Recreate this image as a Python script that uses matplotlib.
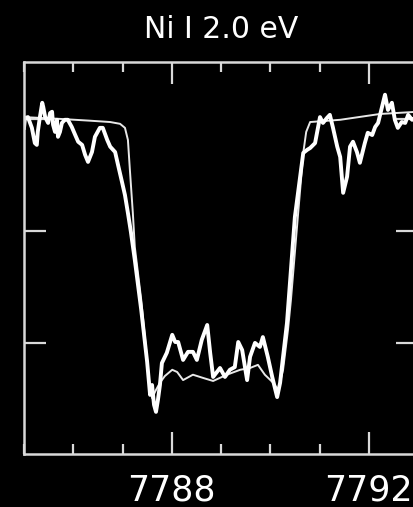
import matplotlib
matplotlib.use("Agg")
import matplotlib.pyplot as plt
from matplotlib.ticker import MultipleLocator

# synthetic profile (thin line)
model_wave = [7785.00, 7785.73, 7786.34, 7786.75, 7786.95, 7787.05, 7787.11, 7787.15,
              7787.21, 7787.25, 7787.38, 7787.50, 7787.54, 7787.60, 7787.68, 7787.76,
              7787.86, 7788.01, 7788.11, 7788.23, 7788.43, 7788.63, 7788.84, 7789.12,
              7789.39, 7789.59, 7789.75, 7789.89, 7790.06, 7790.16, 7790.26, 7790.36,
              7790.42, 7790.56, 7790.67, 7790.73, 7790.81, 7791.42, 7792.23, 7793.00]
model_flux = [1.004, 1.000, 0.996, 0.993, 0.989, 0.980, 0.953, 0.886,
              0.790, 0.714, 0.596, 0.462, 0.417, 0.377, 0.395, 0.411,
              0.426, 0.440, 0.435, 0.417, 0.429, 0.422, 0.415, 0.429,
              0.440, 0.444, 0.451, 0.429, 0.411, 0.395, 0.440, 0.529,
              0.596, 0.781, 0.924, 0.971, 0.993, 0.998, 1.011, 1.016]

# observed spectrum (thick line)
obs_wave = [7785.00, 7785.02, 7785.08, 7785.16, 7785.22, 7785.26, 7785.28, 7785.32,
            7785.37, 7785.39, 7785.43, 7785.49, 7785.53, 7785.57, 7785.59, 7785.63,
            7785.67, 7785.69, 7785.73, 7785.77, 7785.83, 7785.89, 7785.97, 7786.04,
            7786.10, 7786.18, 7786.24, 7786.30, 7786.38, 7786.44, 7786.54, 7786.60,
            7786.69, 7786.75, 7786.85, 7786.91, 7786.99, 7787.05, 7787.11, 7787.17,
            7787.25, 7787.38, 7787.50, 7787.56, 7787.60, 7787.64, 7787.68, 7787.72,
            7787.76, 7787.80, 7787.90, 7788.01, 7788.07, 7788.13, 7788.23, 7788.33,
            7788.43, 7788.51, 7788.61, 7788.72, 7788.78, 7788.84, 7788.98, 7789.08,
            7789.18, 7789.28, 7789.35, 7789.43, 7789.53, 7789.59, 7789.69, 7789.79,
            7789.85, 7789.95, 7790.04, 7790.14, 7790.20, 7790.26, 7790.34, 7790.50,
            7790.67, 7790.75, 7790.81, 7790.91, 7791.01, 7791.07, 7791.15, 7791.21,
            7791.27, 7791.36, 7791.42, 7791.48, 7791.56, 7791.62, 7791.68, 7791.76,
            7791.82, 7791.92, 7791.98, 7792.07, 7792.13, 7792.19, 7792.27, 7792.33,
            7792.39, 7792.47, 7792.53, 7792.59, 7792.67, 7792.74, 7792.80, 7792.88,
            7793.00]
obs_flux = [0.980, 1.002, 1.004, 0.980, 0.946, 0.942, 0.971, 1.002,
            1.036, 1.027, 1.004, 0.991, 1.013, 1.016, 0.987, 0.971,
            0.998, 0.960, 0.971, 0.991, 0.998, 0.998, 0.982, 0.964,
            0.949, 0.942, 0.920, 0.904, 0.926, 0.960, 0.980, 0.980,
            0.953, 0.938, 0.926, 0.897, 0.859, 0.830, 0.790, 0.748,
            0.685, 0.574, 0.458, 0.384, 0.406, 0.362, 0.346, 0.373,
            0.406, 0.455, 0.478, 0.518, 0.502, 0.502, 0.462, 0.480,
            0.480, 0.462, 0.507, 0.540, 0.478, 0.424, 0.444, 0.424,
            0.440, 0.446, 0.502, 0.484, 0.417, 0.469, 0.500, 0.491,
            0.513, 0.469, 0.424, 0.379, 0.411, 0.469, 0.545, 0.781,
            0.924, 0.931, 0.935, 0.946, 1.004, 0.991, 1.002, 1.009,
            0.982, 0.938, 0.915, 0.835, 0.871, 0.938, 0.949, 0.926,
            0.902, 0.946, 0.969, 0.964, 0.982, 0.991, 1.027, 1.054,
            1.020, 1.036, 0.998, 0.980, 0.993, 0.991, 1.009, 0.998,
            1.002]

title = "Ni I 2.0 eV"
fg = "#d9d9d9"

fig = plt.figure(figsize=(4.13, 5.07), dpi=100, facecolor="black")
ax = fig.add_axes([24/413, 53/507, 394/413, 392/507], facecolor="black")

ax.plot(model_wave, model_flux, color="#e8e8e8", lw=1.4)
ax.plot(obs_wave, obs_flux, color="white", lw=2.8)

ax.set_xlim(7785, 7793)
ax.set_ylim(0.252, 1.127)

ax.xaxis.set_major_locator(MultipleLocator(4))
ax.xaxis.set_minor_locator(MultipleLocator(1))
ax.yaxis.set_major_locator(MultipleLocator(0.25))
ax.tick_params(which="both", direction="in", top=True, right=True,
               color=fg, width=1.6)
ax.tick_params(which="major", length=16, pad=14, labelsize=25, labelcolor="white")
ax.tick_params(which="minor", length=7.5)
ax.tick_params(axis="y", labelleft=False)

for sp in ax.spines.values():
    sp.set_color(fg)
    sp.set_linewidth(1.8)

ax.set_title(title, color="white", fontsize=21.5, pad=17)

fig.savefig("out.png", dpi=100, facecolor="black")
